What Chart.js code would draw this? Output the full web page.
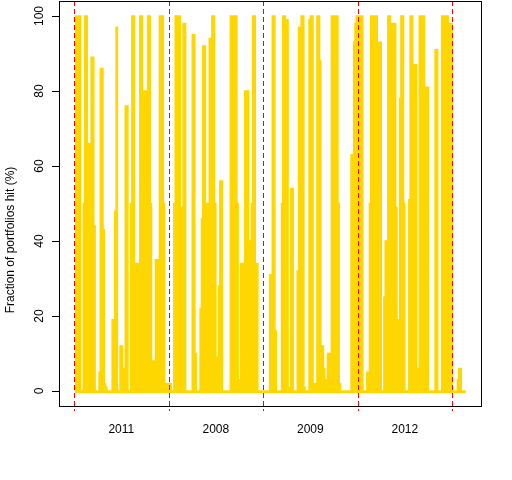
<!DOCTYPE html>
<html lang="en">
<head>
    <meta charset="UTF-8" />
    <title>Fraction of portfolios hit</title>
    <script src="https://cdn.jsdelivr.net/npm/chart.js"></script>
    <style>
        html, body {
            margin: 0;
            padding: 0;
            background-color: #ffffff;
        }

        #hitChart {
            display: block;
        }
    </style>
</head>
<body>

<canvas id="hitChart" width="512" height="480"></canvas>

<script>
    // one block of values per year
    const years = ['2011', '2008', '2009', '2012'];

    const hits2011 = [99, 100, 100, 100, 100, 0, 0, 50, 100, 100, 50, 66, 66, 89, 89, 44,
        0, 0, 0, 5, 86, 86, 43, 2, 1, 0, 0, 0, 0, 19, 19, 48, 97, 0, 0, 12, 12, 6, 0,
        76, 76, 0, 0, 50, 100, 100, 29, 34, 34, 0, 100, 100, 80, 80, 80, 52, 100, 100,
        50, 4, 8, 8, 35, 35, 35, 100, 100, 100, 50, 0, 2, 2];

    const hits2008 = [2, 2, 0, 0, 50, 100, 100, 100, 100, 0, 49, 98, 98, 0, 0, 0, 0, 0,
        95, 95, 10, 0, 0, 0, 22, 46, 92, 92, 25, 50, 50, 94, 94, 100, 100, 50, 9, 9, 28,
        56, 56, 0, 0, 0, 0, 0, 0, 100, 100, 100, 100, 100, 50, 3, 3, 34, 34, 17, 80, 80,
        80, 40, 1, 50, 100, 100, 34, 34, 0, 0, 0, 0];

    const hits2009 = [0, 0, 0, 0, 0, 31, 31, 100, 100, 16, 0, 0, 0, 0, 50, 100, 100, 99,
        99, 1, 1, 54, 54, 0, 0, 0, 32, 97, 97, 100, 100, 1, 0, 0, 0, 99, 100, 100, 1, 2,
        2, 100, 100, 88, 12, 12, 6, 0, 3, 10, 10, 0, 100, 100, 0, 100, 100, 50, 2, 0, 0,
        0, 0, 0, 0, 0, 0, 63, 63, 93, 98, 100];

    const hits2012 = [100, 100, 100, 100, 0, 0, 0, 5, 5, 50, 100, 100, 99, 100, 100, 71,
        93, 93, 0, 0, 25, 40, 40, 100, 100, 97, 98, 98, 98, 49, 19, 1, 78, 100, 100, 50,
        0, 0, 0, 51, 100, 100, 43, 87, 87, 0, 6, 100, 100, 100, 100, 50, 81, 81, 0, 0, 0,
        0, 0, 91, 91, 0, 0, 0, 100, 100, 50, 100, 100, 49, 98, 98];

    const hitsTail = [0, 0, 0, 0, 3, 6, 6, 0, 0, 0, 0];

    const yTicks = [0, 20, 40, 60, 80, 100];

    const yearBlocks = [hits2011, hits2008, hits2009, hits2012];
    const allHits = yearBlocks.flat().concat(hitsTail);
    const points = allHits.map((v, i) => ({ x: i, y: v }));

    // index where each year starts
    const yearStarts = [];
    let pos = 0;
    yearBlocks.forEach(b => { yearStarts.push(pos); pos += b.length; });
    const boundaries = yearStarts.concat([pos]);

    const FONT = '12px "Liberation Sans", Arial, sans-serif';

    const decorations = {
        id: 'decorations',
        afterDatasetsDraw(chart) {
            const ctx = chart.ctx;
            const area = chart.chartArea;
            const xs = chart.scales.x;
            const ys = chart.scales.y;

            // year separators
            ctx.save();
            ctx.strokeStyle = '#ff0000';
            ctx.lineWidth = 1;
            ctx.setLineDash([5, 3]);
            boundaries.forEach(b => {
                const px = Math.round(xs.getPixelForValue(b - 0.5)) + 0.5;
                ctx.beginPath();
                ctx.moveTo(px, area.top);
                ctx.lineTo(px, area.bottom + 5);
                ctx.stroke();
            });
            ctx.restore();

            // box round the plot
            ctx.save();
            ctx.strokeStyle = '#000000';
            ctx.lineWidth = 1;
            ctx.strokeRect(Math.round(area.left) + 0.5, Math.round(area.top) + 0.5,
                Math.round(area.right - area.left), Math.round(area.bottom - area.top));
            ctx.restore();

            ctx.save();
            ctx.fillStyle = '#000000';
            ctx.font = FONT;
            ctx.textAlign = 'center';
            ctx.textBaseline = 'alphabetic';

            // y tick labels, rotated like R does
            ys.ticks.forEach(t => {
                const py = ys.getPixelForValue(t.value);
                ctx.save();
                ctx.translate(43, py);
                ctx.rotate(-Math.PI / 2);
                ctx.fillText(String(t.value), 0, 0);
                ctx.restore();
            });

            // year names under each block
            years.forEach((name, i) => {
                const mid = (boundaries[i] + boundaries[i + 1]) / 2 - 0.5;
                ctx.fillText(name, xs.getPixelForValue(mid), 433);
            });

            // y axis title
            ctx.translate(14, 240);
            ctx.rotate(-Math.PI / 2);
            ctx.fillText('Fraction of portfolios hit (%)', 0, 0);
            ctx.restore();
        }
    };

    new Chart(document.getElementById('hitChart'), {
        type: 'line',
        data: {
            datasets: [{
                data: points,
                borderColor: '#ffd700',
                backgroundColor: '#ffd700',
                borderWidth: 1.5,
                // a little below zero so the flat stretches show as a thick band
                fill: { value: -0.6 },
                stepped: 'middle',
                pointRadius: 0,
                tension: 0
            }]
        },
        options: {
            responsive: false,
            animation: false,
            devicePixelRatio: 1,
            layout: {
                padding: { top: 1, right: 31, bottom: 74, left: 0 }
            },
            scales: {
                x: {
                    type: 'linear',
                    min: -12,
                    max: 309.5,
                    display: false
                },
                y: {
                    min: -4,
                    max: 104,
                    afterBuildTicks: s => { s.ticks = yTicks.map(v => ({ value: v })); },
                    afterFit: s => { s.width = 59; },
                    grid: {
                        drawOnChartArea: false,
                        drawTicks: true,
                        tickLength: 7,
                        color: '#000000'
                    },
                    border: { display: false },
                    ticks: { display: false }
                }
            },
            plugins: {
                legend: { display: false },
                tooltip: { enabled: false }
            }
        },
        plugins: [decorations]
    });
</script>

</body>
</html>
